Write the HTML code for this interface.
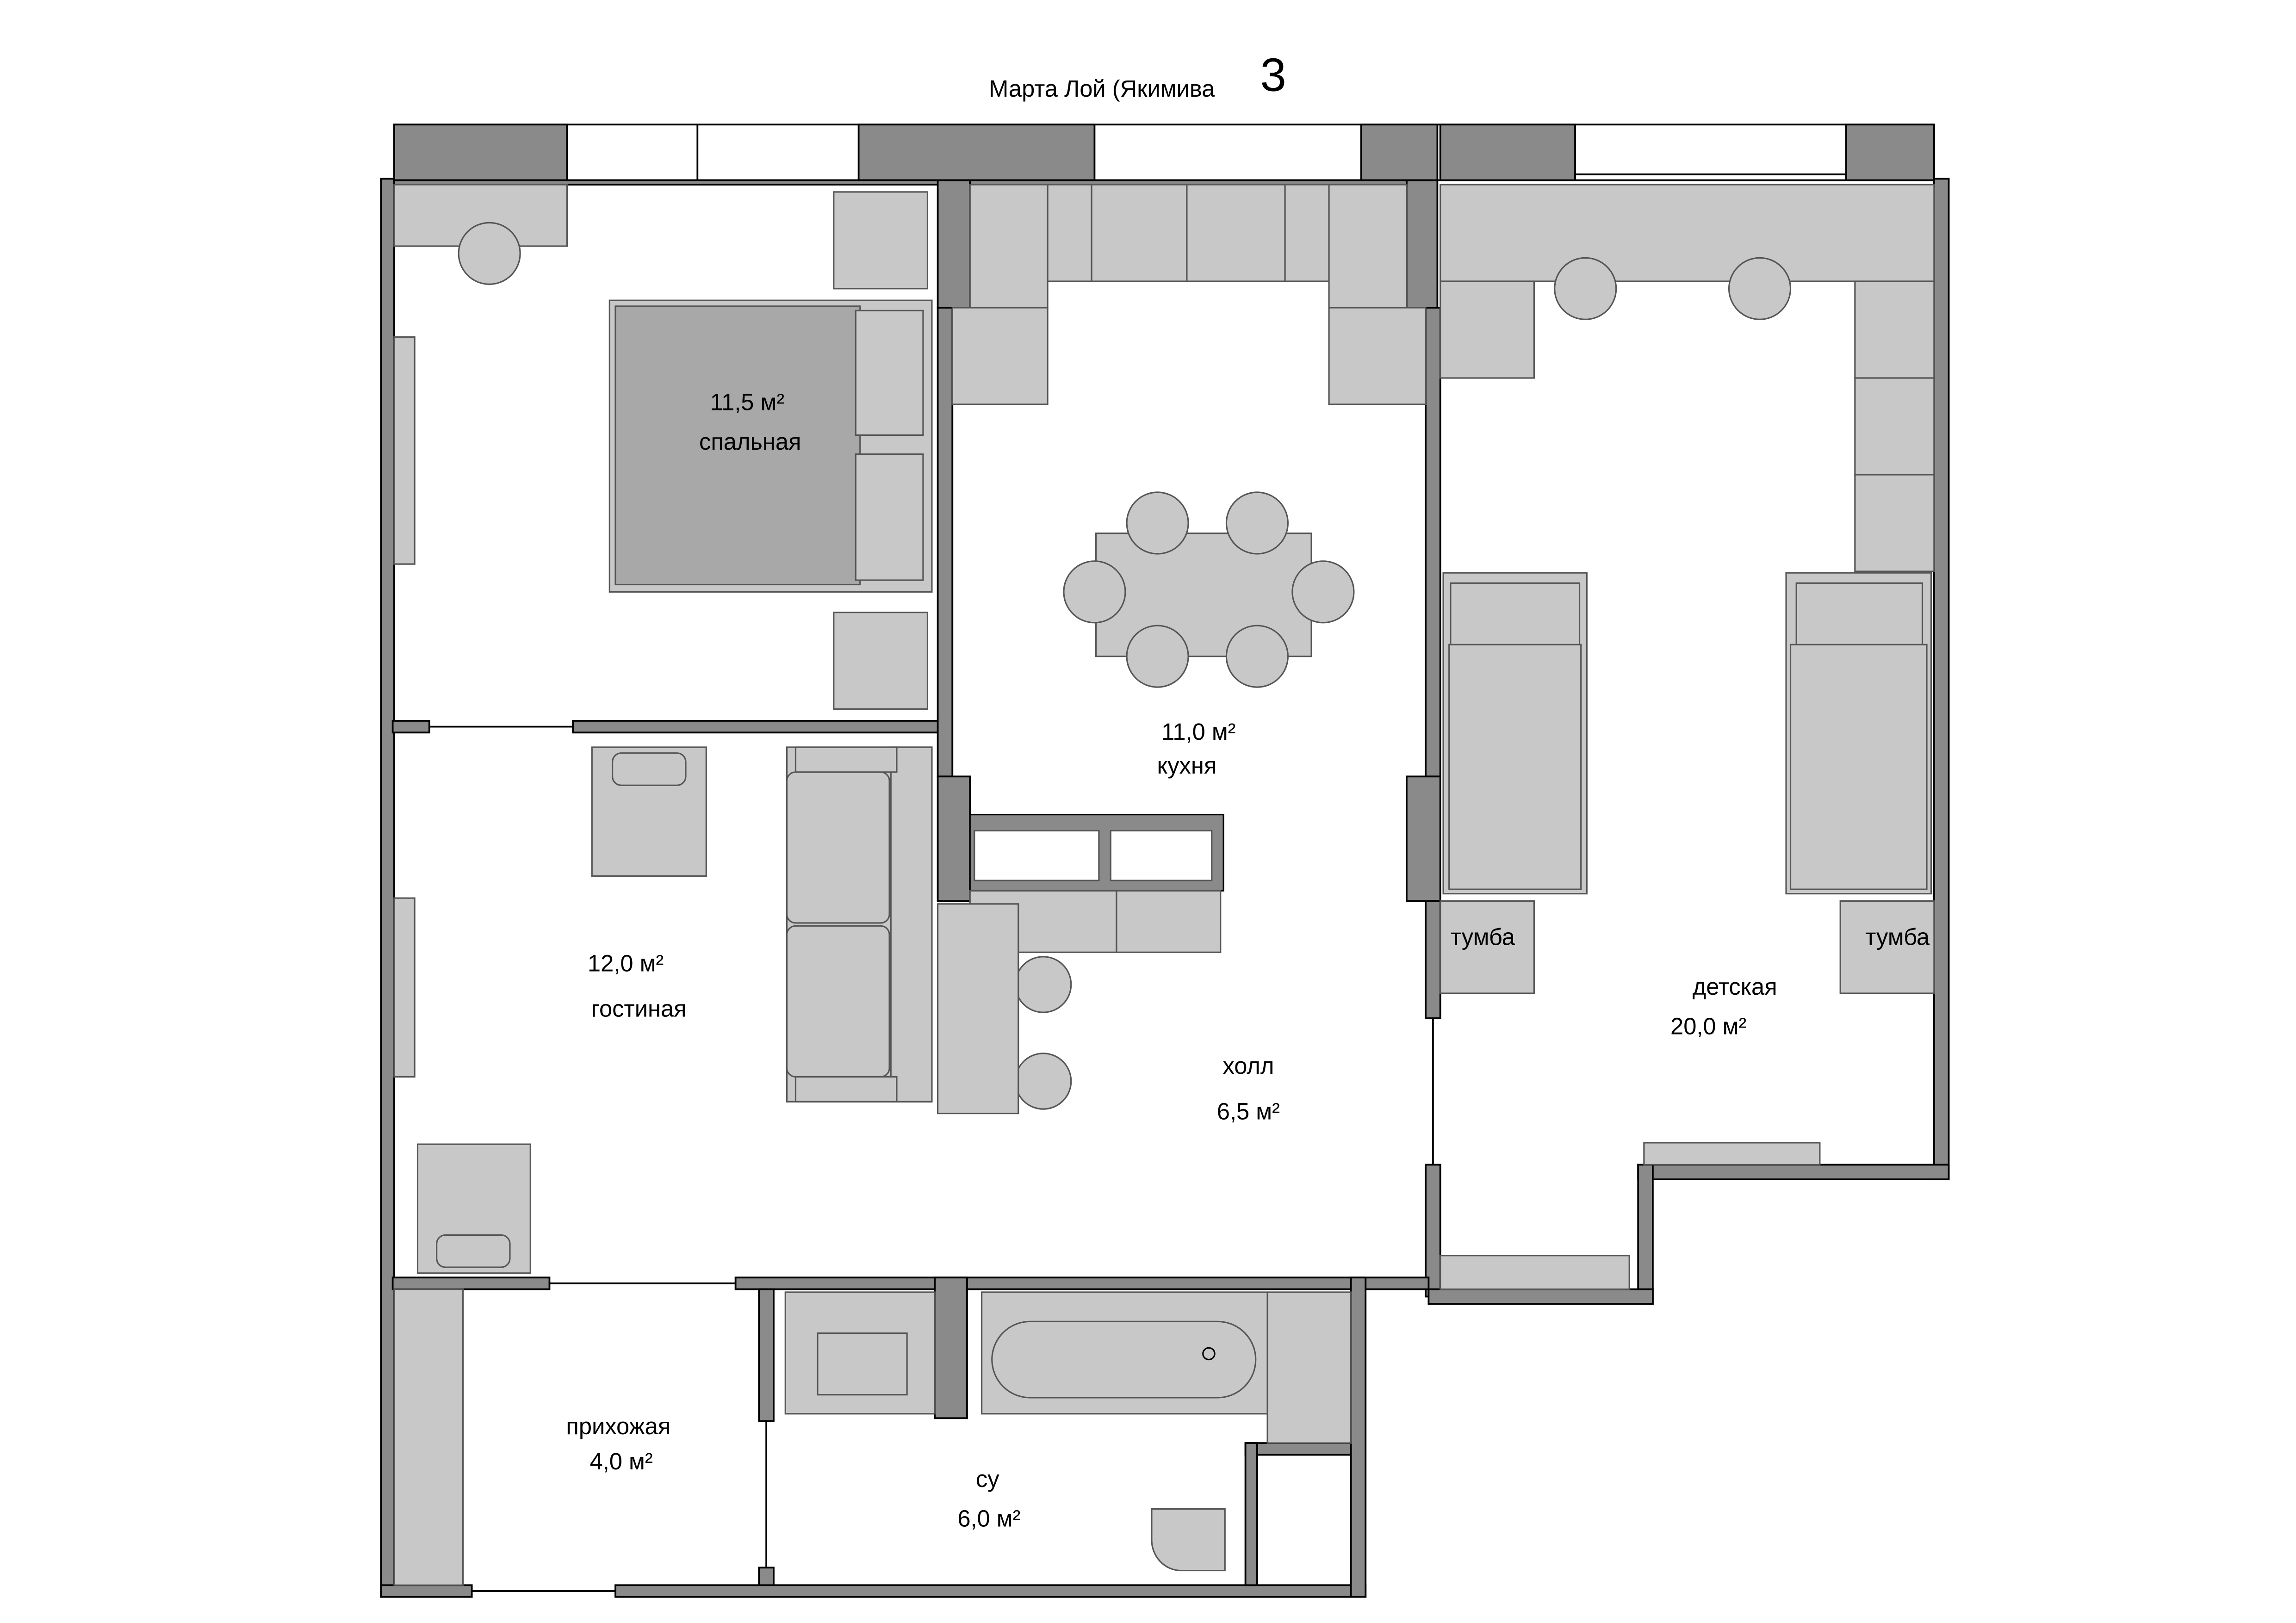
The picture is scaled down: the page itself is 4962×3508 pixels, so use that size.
<!DOCTYPE html>
<html><head><meta charset="utf-8"><style>html,body{margin:0;padding:0;background:#fff}svg{display:block}text{font-family:"Liberation Sans","DejaVu Sans",sans-serif;fill:#000}</style></head><body>
<svg width="4962" height="3508" viewBox="0 0 1567 1107.8" xmlns="http://www.w3.org/2000/svg">
<rect width="1567" height="1108" fill="#fff"/>
<g stroke="#000" stroke-width="1.2">
<rect x="269" y="85" width="1051" height="38" fill="#fff"/>
<line x1="476" y1="85" x2="476" y2="123"/>
<g fill="#8a8a8a">
<rect x="269" y="85" width="118" height="38"/>
<rect x="586" y="85" width="161" height="38"/>
<rect x="929" y="85" width="52" height="38"/>
<rect x="983" y="85" width="92" height="38"/>
<rect x="1260" y="85" width="60" height="38"/>
<rect x="260" y="122" width="9" height="968"/>
<rect x="640" y="123" width="22" height="87"/>
<rect x="640" y="210" width="10" height="320"/>
<rect x="640" y="530" width="22" height="85"/>
<rect x="960" y="123" width="21" height="87"/>
<rect x="973" y="210" width="10" height="320"/>
<rect x="960" y="530" width="23" height="85"/>
<rect x="973" y="615" width="10" height="80"/>
<rect x="973" y="795" width="10" height="90"/>
<rect x="1320" y="122" width="10" height="683"/>
<rect x="1118" y="795" width="212" height="10"/>
<rect x="1118" y="795" width="10" height="95"/>
<rect x="975" y="880" width="153" height="10"/>
<rect x="268" y="492" width="25" height="8"/>
<rect x="391" y="492" width="249" height="8"/>
<rect x="268" y="872" width="107" height="8"/>
<rect x="502" y="872" width="473" height="8"/>
<rect x="518" y="880" width="10" height="90"/>
<rect x="518" y="1070" width="10" height="20"/>
<rect x="260" y="1082" width="62" height="8"/>
<rect x="420" y="1082" width="512" height="8"/>
<rect x="922" y="872" width="10" height="218"/>
<rect x="638" y="872" width="22" height="96"/>
<rect x="850" y="985" width="72" height="8"/>
<rect x="850" y="985" width="8" height="97"/>
</g>
<rect x="269" y="123" width="371" height="3" fill="#8a8a8a"/>
<rect x="662" y="123" width="298" height="3" fill="#8a8a8a"/>
<rect x="1075" y="119" width="185" height="4" fill="#fff"/>
<line x1="978" y1="695" x2="978" y2="795"/>
<line x1="293" y1="496" x2="391" y2="496"/>
<line x1="375" y1="876" x2="502" y2="876"/>
<line x1="322" y1="1086" x2="420" y2="1086"/>
<line x1="523" y1="970" x2="523" y2="1070"/>
</g>
<g stroke="#555" stroke-width="1" fill="#c8c8c8">
<rect x="269" y="126" width="118" height="42"/>
<circle cx="334" cy="173" r="21"/>
<rect x="569" y="131" width="64" height="66"/>
<rect x="569" y="418" width="64" height="66"/>
<rect x="416" y="205" width="220" height="199"/>
<rect x="420" y="209" width="167" height="190" fill="#a8a8a8"/>
<rect x="584" y="212" width="46" height="85"/>
<rect x="584" y="310" width="46" height="86"/>
<rect x="269" y="230" width="14" height="155"/>
<rect x="269" y="613" width="14" height="122"/>
<rect x="662" y="126" width="53" height="84"/>
<rect x="715" y="126" width="30" height="66"/>
<rect x="745" y="126" width="65" height="66"/>
<rect x="810" y="126" width="67" height="66"/>
<rect x="877" y="126" width="30" height="66"/>
<rect x="907" y="126" width="53" height="84"/>
<rect x="650" y="210" width="65" height="66"/>
<rect x="907" y="210" width="66" height="66"/>
<rect x="748" y="364" width="147" height="84"/>
<circle cx="790" cy="357" r="21"/><circle cx="858" cy="357" r="21"/>
<circle cx="747" cy="404" r="21"/><circle cx="903" cy="404" r="21"/>
<circle cx="790" cy="448" r="21"/><circle cx="858" cy="448" r="21"/>
<rect x="662" y="556" width="173" height="52" fill="#8a8a8a" stroke="#000"/>
<rect x="665" y="567" width="85" height="34" fill="#fff"/>
<rect x="758" y="567" width="69" height="34" fill="#fff"/>
<rect x="662" y="608" width="100" height="42"/>
<rect x="762" y="608" width="71" height="42"/>
<circle cx="712" cy="672" r="19"/><circle cx="712" cy="738" r="19"/>
<rect x="640" y="617" width="55" height="143"/>
<rect x="537" y="510" width="99" height="242"/>
<rect x="608" y="510" width="28" height="242"/>
<rect x="537" y="527" width="70" height="103" rx="6"/>
<rect x="537" y="632" width="70" height="103" rx="6"/>
<rect x="543" y="510" width="69" height="17"/>
<rect x="543" y="735" width="69" height="17"/>
<rect x="404" y="510" width="78" height="88"/>
<rect x="418" y="514" width="50" height="22" rx="6"/>
<rect x="285" y="781" width="77" height="88"/>
<rect x="298" y="843" width="50" height="22" rx="6"/>
<rect x="983" y="126" width="337" height="66"/>
<circle cx="1082" cy="197" r="21"/><circle cx="1201" cy="197" r="21"/>
<rect x="983" y="192" width="64" height="66"/>
<rect x="1266" y="192" width="54" height="66"/>
<rect x="1266" y="258" width="54" height="66"/>
<rect x="1266" y="324" width="54" height="66"/>
<rect x="985" y="391" width="98" height="219"/>
<rect x="990" y="398" width="88" height="44"/>
<rect x="989" y="440" width="90" height="167"/>
<rect x="1219" y="391" width="99" height="219"/>
<rect x="1226" y="398" width="86" height="44"/>
<rect x="1222" y="440" width="93" height="167"/>
<rect x="983" y="615" width="64" height="63"/>
<rect x="1256" y="615" width="64" height="63"/>
<rect x="1122" y="780" width="120" height="15"/>
<rect x="983" y="857" width="129" height="23"/>
<rect x="269" y="880" width="47" height="202"/>
<rect x="536" y="882" width="102" height="83"/>
<rect x="558" y="910" width="61" height="42"/>
<rect x="670" y="882" width="195" height="83"/>
<rect x="677" y="902" width="180" height="52" rx="26" fill="#c8c8c8"/>
<rect x="865" y="882" width="57" height="103"/>
<path d="M786 1030 h50 v42 h-30 a20 21 0 0 1 -20 -21 z"/>
</g>
<circle cx="825" cy="924" r="4" fill="none" stroke="#000"/>
<text x="752" y="66" font-size="16" text-anchor="middle">Марта Лой (Якимива</text>
<text x="869" y="62" font-size="32" text-anchor="middle">3</text>
<g font-size="16" text-anchor="middle">
<text x="510" y="280">11,5 м²</text><text x="512" y="307">спальная</text>
<text x="818" y="505">11,0 м²</text><text x="810" y="528">кухня</text>
<text x="427" y="663">12,0 м²</text><text x="436" y="694">гостиная</text>
<text x="852" y="733">холл</text><text x="852" y="764">6,5 м²</text>
<text x="1012" y="645">тумба</text><text x="1295" y="645">тумба</text>
<text x="1184" y="679">детская</text><text x="1166" y="706">20,0 м²</text>
<text x="422" y="979">прихожая</text><text x="424" y="1003">4,0 м²</text>
<text x="674" y="1015">су</text><text x="675" y="1042">6,0 м²</text>
</g>
</svg>
</body></html>
